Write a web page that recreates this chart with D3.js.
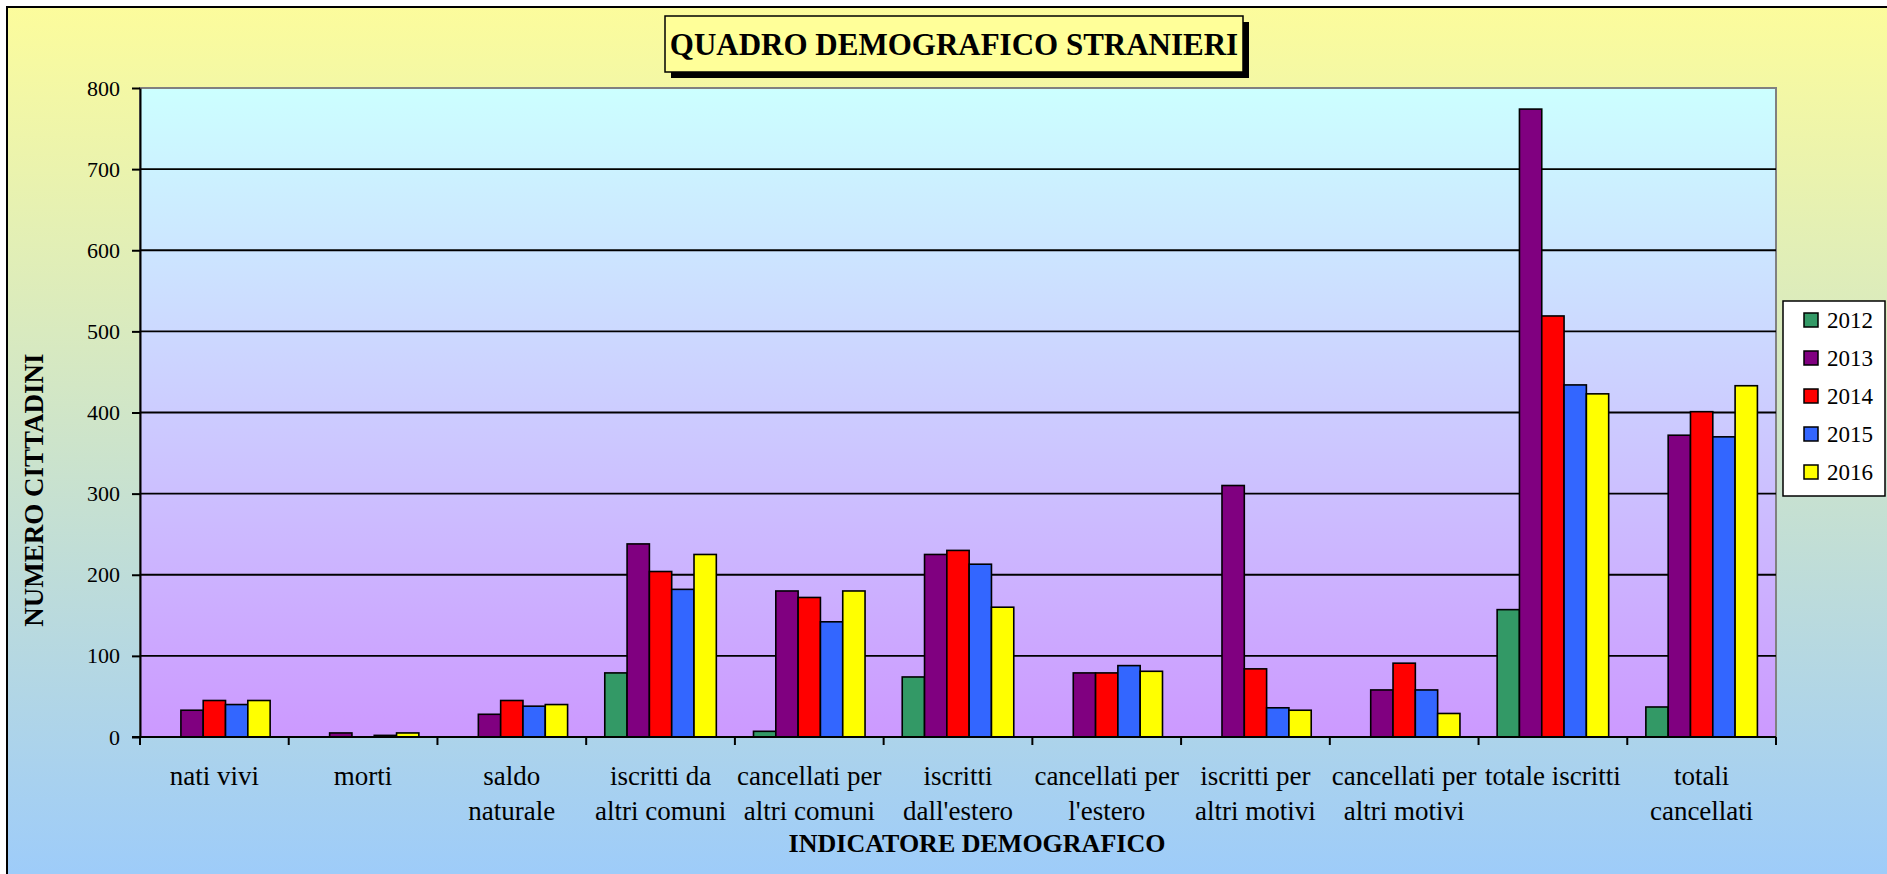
<!DOCTYPE html>
<head>
  <meta charset="utf-8">
  <style>
  body { margin: 0; background: #fff; }
  * { font-family: "Palatino Linotype", "Book Antiqua", "Liberation Serif", serif; }
  .grid line { stroke: #000; stroke-width: 1.8px; }
  .axis path, .axis line { stroke: #000; stroke-width: 2px; }
  .axis text { font-size: 22px; fill: #000; }
  .bar { stroke: #000; stroke-width: 1.6px; }
  </style>
  <title>Quadro demografico stranieri</title>
</head>
<body>
  <svg width="1887" height="874"></svg>
  <script src="https://d3js.org/d3.v7.min.js"></script>
  <script>
  // categories (line breaks as in the original labels)
  var categories = ["nati vivi", "morti", "saldo\nnaturale", "iscritti da\naltri comuni",
    "cancellati per\naltri comuni", "iscritti\ndall'estero", "cancellati per\nl'estero",
    "iscritti per\naltri motivi", "cancellati per\naltri motivi", "totale iscritti", "totali\ncancellati"];

  var years = ["2012", "2013", "2014", "2015", "2016"];
  var colors = ["#339966", "#800080", "#ff0000", "#3366ff", "#ffff00"];

  // one array per year, same order as categories
  var v2012 = [0, 0, 0, 79, 7, 74, 0, 0, 0, 157, 37];
  var v2013 = [33, 5, 28, 238, 180, 225, 79, 310, 58, 774, 372];
  var v2014 = [45, 0, 45, 204, 172, 230, 79, 84, 91, 519, 401];
  var v2015 = [40, 2, 38, 182, 142, 213, 88, 36, 58, 434, 370];
  var v2016 = [45, 5, 40, 225, 180, 160, 81, 33, 29, 423, 433];
  var series = [v2012, v2013, v2014, v2015, v2016];

  var yTicks = [0, 100, 200, 300, 400, 500, 600, 700, 800];

  var svg = d3.select("svg"),
      width = +svg.attr("width"),
      height = +svg.attr("height");

  var plotLeft = 140, plotRight = 1776, plotTop = 88, plotBottom = 737;

  var defs = svg.append("defs");
  var g1 = defs.append("linearGradient").attr("id", "outerBg")
      .attr("x1", 0).attr("y1", 0).attr("x2", 0).attr("y2", 1);
  g1.append("stop").attr("offset", "0%").attr("stop-color", "#fcfc9c");
  g1.append("stop").attr("offset", "100%").attr("stop-color", "#9ccbfb");
  var g2 = defs.append("linearGradient").attr("id", "plotBg")
      .attr("x1", 0).attr("y1", 0).attr("x2", 0).attr("y2", 1);
  g2.append("stop").attr("offset", "0%").attr("stop-color", "#ccffff");
  g2.append("stop").attr("offset", "100%").attr("stop-color", "#cc99ff");

  // outer chart area
  svg.append("rect")
      .attr("x", 7).attr("y", 7)
      .attr("width", width + 10).attr("height", height + 10)
      .attr("fill", "url(#outerBg)")
      .attr("stroke", "#000").attr("stroke-width", 2);

  // plot area
  svg.append("rect")
      .attr("x", plotLeft).attr("y", plotTop)
      .attr("width", plotRight - plotLeft).attr("height", plotBottom - plotTop)
      .attr("fill", "url(#plotBg)")
      .attr("stroke", "#808080").attr("stroke-width", 2);

  var x0 = d3.scaleBand().domain(categories).range([plotLeft, plotRight]).padding(0);
  var x1 = d3.scaleBand().domain(years)
      .range([x0.bandwidth() * 0.125, x0.bandwidth() * 0.875]).padding(0);
  var y = d3.scaleLinear().domain([0, 800]).range([plotBottom, plotTop]);

  // gridlines
  svg.append("g").attr("class", "grid")
    .selectAll("line")
    .data(yTicks.filter(function(d) { return d > 0 && d < 800; }))
    .enter().append("line")
      .attr("x1", plotLeft).attr("x2", plotRight)
      .attr("y1", function(d) { return y(d); })
      .attr("y2", function(d) { return y(d); });

  // bars
  var group = svg.append("g").selectAll("g")
    .data(categories)
    .enter().append("g")
      .attr("transform", function(d) { return "translate(" + x0(d) + ",0)"; });

  group.selectAll("rect")
    .data(function(c, i) {
      return years.map(function(yr, j) { return {year: yr, value: series[j][i], color: colors[j]}; })
        .filter(function(d) { return d.value > 0; });
    })
    .enter().append("rect")
      .attr("class", "bar")
      .attr("x", function(d) { return x1(d.year); })
      .attr("width", x1.bandwidth())
      .attr("y", function(d) { return y(d.value); })
      .attr("height", function(d) { return y(0) - y(d.value); })
      .attr("fill", function(d) { return d.color; });

  // y axis
  var yAxis = svg.append("g").attr("class", "axis")
      .attr("transform", "translate(" + plotLeft + ",0)")
      .call(d3.axisLeft(y).tickValues(yTicks).tickSize(8).tickPadding(12).tickSizeOuter(0));
  yAxis.select(".domain").attr("stroke-width", 2.5);

  // x axis: ticks at category boundaries
  var xAxis = svg.append("g").attr("class", "axis");
  xAxis.append("line")
      .attr("x1", plotLeft - 8).attr("x2", plotRight)
      .attr("y1", plotBottom).attr("y2", plotBottom)
      .attr("stroke-width", 2.5);
  xAxis.selectAll(".xtick")
    .data(categories.concat(["end"]))
    .enter().append("line")
      .attr("class", "xtick")
      .attr("x1", function(d, i) { return plotLeft + i * x0.step(); })
      .attr("x2", function(d, i) { return plotLeft + i * x0.step(); })
      .attr("y1", plotBottom).attr("y2", plotBottom + 8);

  var labels = xAxis.selectAll(".xlabel")
    .data(categories)
    .enter().append("text")
      .attr("class", "xlabel")
      .attr("text-anchor", "middle")
      .style("font-size", "27px")
      .attr("transform", function(d) { return "translate(" + (x0(d) + x0.bandwidth() / 2) + "," + 785 + ")"; });
  labels.selectAll("tspan")
    .data(function(d) { return d.split("\n"); })
    .enter().append("tspan")
      .attr("x", 0)
      .attr("y", function(d, i) { return i * 35; })
      .text(function(d) { return d; });

  // axis titles
  svg.append("text")
      .attr("x", (plotLeft + plotRight) / 2 + 19).attr("y", 852)
      .attr("text-anchor", "middle")
      .attr("font-size", "26px").attr("font-weight", "bold")
      .text("INDICATORE DEMOGRAFICO");

  svg.append("text")
      .attr("transform", "translate(43,490) rotate(-90)")
      .attr("text-anchor", "middle")
      .attr("font-size", "27px").attr("font-weight", "bold")
      .text("NUMERO CITTADINI");

  // title box with shadow
  svg.append("rect")
      .attr("x", 671).attr("y", 22).attr("width", 578).attr("height", 56)
      .attr("fill", "#000");
  svg.append("rect")
      .attr("x", 665).attr("y", 16).attr("width", 578).attr("height", 56)
      .attr("fill", "#ffff99").attr("stroke", "#000").attr("stroke-width", 1.5);
  svg.append("text")
      .attr("x", 954).attr("y", 55)
      .attr("text-anchor", "middle")
      .attr("font-size", "31px").attr("font-weight", "bold")
      .text("QUADRO DEMOGRAFICO STRANIERI");

  // legend
  var legend = svg.append("g").attr("transform", "translate(1783,301)");
  legend.append("rect")
      .attr("width", 102).attr("height", 195)
      .attr("fill", "#fff").attr("stroke", "#000").attr("stroke-width", 1.5);
  var item = legend.selectAll(".item")
    .data(years)
    .enter().append("g")
      .attr("class", "item")
      .attr("transform", function(d, i) { return "translate(0," + (19 + i * 38) + ")"; });
  item.append("rect")
      .attr("x", 21).attr("y", -7).attr("width", 14).attr("height", 14)
      .attr("fill", function(d, i) { return colors[i]; })
      .attr("stroke", "#000").attr("stroke-width", 1.5);
  item.append("text")
      .attr("x", 44).attr("dy", "0.35em")
      .attr("font-size", "23px")
      .text(function(d) { return d; });
  </script>
</body>
